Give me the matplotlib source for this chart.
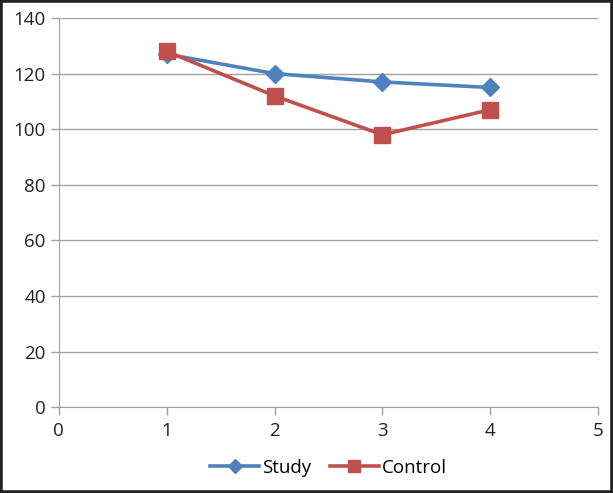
import matplotlib.pyplot as plt
from matplotlib.patches import Rectangle

x = [1, 2, 3, 4]
study = [127, 120, 117, 115]
control = [128, 112, 98, 107]

plt.rcParams['font.family'] = ['Open Sans', 'DejaVu Sans']

fig = plt.figure(figsize=(6.13, 4.93), dpi=100)
ax = fig.add_axes([0.096, 0.174, 0.8795, 0.7895])

ax.plot(x, study, color='#4F81BD', linewidth=2.6, marker='D', markersize=9,
        label='Study', zorder=3)
ax.plot(x, control, color='#C0504D', linewidth=2.6, marker='s', markersize=12,
        label='Control', zorder=4)

ax.set_xlim(0, 5)
ax.set_ylim(0, 140)
ax.set_xticks(range(0, 6))
ax.set_yticks(range(0, 141, 20))
ax.yaxis.grid(True, color='#A0A0A0', linewidth=1)
ax.set_axisbelow(True)

for s in ['top', 'right']:
    ax.spines[s].set_visible(False)
for s in ['left', 'bottom']:
    ax.spines[s].set_color('#A0A0A0')
ax.tick_params(axis='both', colors='#A0A0A0', labelcolor='#222222',
               labelsize=13.5, length=6, width=1)
ax.tick_params(axis='x', pad=5)

leg = ax.legend(loc='center', bbox_to_anchor=(0.5, -0.155), ncol=2,
                frameon=False, fontsize=13.5, handlelength=2.6,
                columnspacing=1.0, handletextpad=0.15, markerscale=0.75)

fig.patches.append(Rectangle((0, 0), 1, 1, transform=fig.transFigure,
                             fill=False, edgecolor='#222222', linewidth=4))

fig.savefig('out.png', dpi=100)
